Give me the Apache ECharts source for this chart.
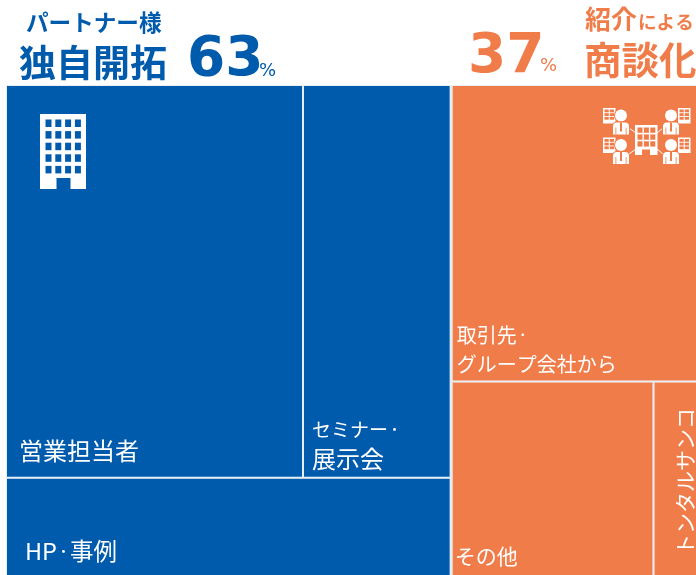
<!DOCTYPE html>
<html><head><meta charset="utf-8">
<script src="https://cdn.jsdelivr.net/npm/echarts@6/dist/echarts.min.js"></script>
<style>html,body{margin:0;padding:0;background:#fff}#c{width:696px;height:575px}</style></head>
<body><div id="c"></div>
<script>
const groupNames = ['独自開拓', '紹介による商談化'];
const blueNames = ['営業担当者', 'セミナー・\n展示会', 'HP・事例'];
const blueValues = [34.4, 17.1, 12.9];
const orangeNames = ['取引先・\nグループ会社から', 'その他', 'トンタルサンコ'];
const orangeValues = [21.5, 11.6, 2.5];
const BLUE = '#005bac', ORANGE = '#f07c4a', FONT = '"Noto Sans CJK JP","Noto Sans",sans-serif';

const richStyle = (fontSize) => ({color: '#fff', fontFamily: FONT, fontSize, lineHeight: 29});
const labelPos = {
  '営業担当者': {show: true, position: [12, 350], fontSize: 24},
  'セミナー・\n展示会': {show: true, position: [8, 329], fontSize: 24,
    formatter: '{k|セミナー}{d|・}\n{n|展示会}', rich: {k: richStyle(19), d: richStyle(13), n: richStyle(24)}},
  'HP・事例': {show: true, position: [18, 58],
    formatter: '{n|HP}{d|・}{n|事例}', rich: {n: richStyle(23.5), d: richStyle(13)}},
  '取引先・\nグループ会社から': {show: true, position: [4, 235],
    formatter: '{n|取引先}{d|・}\n{n|グループ会社から}', rich: {n: richStyle(20), d: richStyle(12)}},
  'その他': {show: true, position: [2, 159], fontSize: 21},
  'トンタルサンコ': {show: false}
};
function leaf(name, value, color) {
  return {name, value, itemStyle: {color}, label: labelPos[name]};
}
const data = [
  {name: groupNames[0], itemStyle: {color: BLUE}, children: blueNames.map((n, i) => leaf(n, blueValues[i], BLUE))},
  {name: groupNames[1], itemStyle: {color: ORANGE}, children: orangeNames.map((n, i) => leaf(n, orangeValues[i], ORANGE))}
];

function heading(left, top, text, size, color, weight, family) {
  return {type: 'text', left, top, silent: true, style: {text, fill: color, font: `${weight || 'bold'} ${size}px ${family || FONT}`}};
}
const g = [
  heading(26, 11, 'パートナー様', 22.6, BLUE),
  heading(19, 44, '独自開拓', 37, BLUE),
  heading(187, 33, '63', 55, BLUE, 'bold', '"DejaVu Sans"'),
  heading(259, 62, '%', 18, BLUE, 'normal', '"DejaVu Sans"'),
  heading(468, 30, '37', 55, ORANGE, 'bold', '"DejaVu Sans"'),
  heading(540, 57, '%', 18, ORANGE, 'normal', '"DejaVu Sans"'),
  heading(585, 6, '紹介', 26, ORANGE),
  heading(638, 13, 'による', 18.6, ORANGE),
  heading(584, 41, '商談化', 37.5, ORANGE),
  {type: 'text', x: 685, y: 555, rotation: Math.PI / 2, silent: true, z: 20,
    style: {text: orangeNames[2], fill: '#fff', font: `21px ${FONT}`, align: 'left', verticalAlign: 'middle'}}
];
// building icon
const rect = (x, y, w, h, fill, r) => ({type: 'rect', silent: true, z: 10, shape: {x, y, width: w, height: h, r: r || 0}, style: {fill}});
g.push(rect(40, 114, 46, 75, '#fff'));
for (let r = 0; r < 5; r++) for (let c = 0; c < 4; c++) g.push(rect(45.5 + c * 9.8, 119.5 + r * 11.6, 6, 7.5, BLUE));
g.push(rect(56.5, 178, 14, 11, BLUE));
// network icon
function smallB(x, y, w, h) {
  g.push(rect(x, y, w, h, '#fff'));
  const cw = (w - 4) / 2;
  for (let i = 0; i < 2; i++) for (let j = 0; j < 3; j++) g.push(rect(x + 1.5 + i * (cw + 1), y + 1.5 + j * 3.7, cw, 2.8, ORANGE));
}
function person(cx, cy) {
  g.push({type: 'circle', silent: true, z: 11, shape: {cx, cy, r: 7}, style: {fill: ORANGE}});
  g.push({type: 'circle', silent: true, z: 12, shape: {cx, cy, r: 6}, style: {fill: '#fff'}});
  g.push(Object.assign(rect(cx - 9, cy + 6, 18, 13.5, ORANGE, [5, 5, 0, 0]), {z: 12}));
  g.push(Object.assign(rect(cx - 8, cy + 7, 16, 12, '#fff', [4, 4, 0, 0]), {z: 13}));
  g.push(Object.assign(rect(cx - 1, cy + 7, 2, 9, ORANGE), {z: 14}));
  g.push(Object.assign(rect(cx - 5.5, cy + 12, 0.8, 7, ORANGE), {z: 14}), Object.assign(rect(cx + 4.7, cy + 12, 0.8, 7, ORANGE), {z: 14}));
}
const link = (x1, y1, x2, y2) => ({type: 'line', silent: true, z: 9, shape: {x1, y1, x2, y2}, style: {stroke: '#fff', lineWidth: 1}});
[0, 29.5].forEach(dy => {
  smallB(603, 108 + dy, 12.5, 15.5);
  smallB(678, 108 + dy, 12.5, 15.5);
  person(621, 115.5 + dy);
  person(671, 115.5 + dy);
});
g.push(link(629, 128, 636, 133), link(663, 128, 657, 133), link(629, 154, 636, 149), link(663, 154, 657, 149));
g.push(rect(635, 125, 22.5, 30, '#fff'));
for (let r = 0; r < 3; r++) for (let c = 0; c < 3; c++) g.push(Object.assign(rect(637.5 + c * 6.4, 127.5 + r * 6.9, 5, 5.3, ORANGE), {z: 11}));
g.push(Object.assign(rect(642, 149.5, 8, 5.5, ORANGE), {z: 11}));

const chart = echarts.init(document.getElementById('c'), null, {renderer: 'canvas'});
chart.setOption({
  animation: false,
  backgroundColor: '#fff',
  tooltip: {show: false},
  graphic: g,
  series: [{
    type: 'treemap',
    left: 6, top: 85, width: 691, height: 491,
    roam: false, nodeClick: false,
    breadcrumb: {show: false},
    silent: true,
    label: {show: true, color: '#fff', fontSize: 21, lineHeight: 29, padding: 0, fontFamily: FONT, fontWeight: 'normal', overflow: 'none', align: 'left', verticalAlign: 'top'},
    upperLabel: {show: false},
    levels: [
      {itemStyle: {borderWidth: 0, gapWidth: 1, borderColor: '#dfe9f3'}},
      {itemStyle: {borderWidth: 1, gapWidth: 2, borderColor: '#e6eef6'}},
      {itemStyle: {borderWidth: 0}}
    ],
    data
  }]
});
</script></body></html>
